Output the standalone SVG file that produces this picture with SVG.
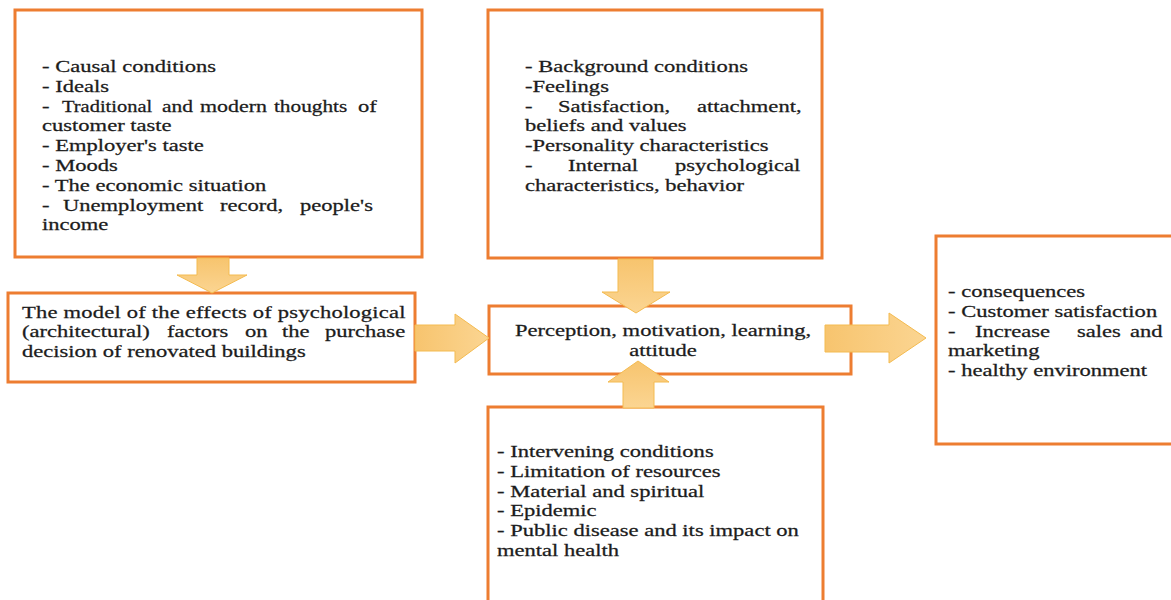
<svg xmlns="http://www.w3.org/2000/svg" width="1171" height="600" viewBox="0 0 1171 600">
<defs>
<linearGradient id="ag" x1="0" y1="0" x2="1" y2="0">
<stop offset="0" stop-color="#F7C46E"/>
<stop offset="1" stop-color="#FBD592"/>
</linearGradient>
<linearGradient id="agv" x1="0" y1="0" x2="0" y2="1">
<stop offset="0" stop-color="#F7C46E"/>
<stop offset="1" stop-color="#FBD592"/>
</linearGradient>
<style>
.box{fill:#fff;stroke:#ED7D31;stroke-width:3}
.t{font-family:"Liberation Serif","Times New Roman",serif;font-size:16px;fill:#1c1c1c;stroke:#1c1c1c;stroke-width:0.25}
.arr{stroke:#F4BB50;stroke-width:1}
</style>
</defs>
<rect width="1171" height="600" fill="#fff"/>

<g id="causal">
<rect class="box" x="15" y="10" width="407" height="247"/>
<g transform="translate(42,0) scale(1.41,1)">
<text class="t" x="0" y="72">- Causal conditions</text>
<text class="t" x="0" y="92">- Ideals</text>
<text class="t" x="0" y="112">-</text>
<text class="t" x="14.2" y="112" textLength="64" lengthAdjust="spacingAndGlyphs">Traditional</text>
<text class="t" x="85.1" y="112" textLength="22" lengthAdjust="spacingAndGlyphs">and</text>
<text class="t" x="112.1" y="112" textLength="47.5" lengthAdjust="spacingAndGlyphs">modern</text>
<text class="t" x="164.5" y="112" textLength="52" lengthAdjust="spacingAndGlyphs">thoughts</text>
<text class="t" x="224.1" y="112">of</text>
<text class="t" x="0" y="131">customer taste</text>
<text class="t" x="0" y="151">- Employer's taste</text>
<text class="t" x="0" y="171">- Moods</text>
<text class="t" x="0" y="191">- The economic situation</text>
<text class="t" y="211"><tspan x="0">-</tspan><tspan x="14.9">Unemployment</tspan><tspan x="126.2">record,</tspan><tspan x="183">people's</tspan></text>
<text class="t" x="0" y="230">income</text>
</g>
</g>

<g id="model">
<rect class="box" x="8" y="293" width="407" height="89"/>
<g transform="translate(22,0) scale(1.41,1)">
<text class="t" x="0" y="318" textLength="272" lengthAdjust="spacing">The model of the effects of psychological</text>
<text class="t" y="337"><tspan x="0">(architectural)</tspan><tspan x="102.8">factors</tspan><tspan x="158.2">on</tspan><tspan x="184.4">the</tspan><tspan x="214.9">purchase</tspan></text>
<text class="t" x="0" y="357">decision of renovated buildings</text>
</g>
</g>

<g id="background">
<rect class="box" x="488" y="10" width="334" height="248"/>
<g transform="translate(525,0) scale(1.41,1)">
<text class="t" x="0" y="72">- Background conditions</text>
<text class="t" x="0" y="92">-Feelings</text>
<text class="t" y="112"><tspan x="0">-</tspan><tspan x="23.4">Satisfaction,</tspan><tspan x="122">attachment,</tspan></text>
<text class="t" x="0" y="131">beliefs and values</text>
<text class="t" x="0" y="151">-Personality characteristics</text>
<text class="t" y="171"><tspan x="0">-</tspan><tspan x="30.5">Internal</tspan><tspan x="106.4">psychological</tspan></text>
<text class="t" x="0" y="191">characteristics, behavior</text>
</g>
</g>

<g id="perception">
<rect class="box" x="489" y="306" width="362" height="68"/>
<g transform="translate(663,0) scale(1.41,1)">
<text class="t" x="0" y="336" text-anchor="middle">Perception, motivation, learning,</text>
<text class="t" x="0" y="356" text-anchor="middle">attitude</text>
</g>
</g>

<g id="intervening">
<rect class="box" x="488" y="407" width="335" height="210"/>
<g transform="translate(497,0) scale(1.41,1)">
<text class="t" x="0" y="457">- Intervening conditions</text>
<text class="t" x="0" y="477">- Limitation of resources</text>
<text class="t" x="0" y="497">- Material and spiritual</text>
<text class="t" x="0" y="516">- Epidemic</text>
<text class="t" x="0" y="536">- Public disease and its impact on</text>
<text class="t" x="0" y="556">mental health</text>
</g>
</g>

<g id="consequences">
<rect class="box" x="936" y="236" width="245" height="208"/>
<g transform="translate(948,0) scale(1.41,1)">
<text class="t" x="0" y="297">- consequences</text>
<text class="t" x="0" y="317">- Customer satisfaction</text>
<text class="t" y="337"><tspan x="0">-</tspan><tspan x="19.1">Increase</tspan><tspan x="91.5">sales</tspan><tspan x="129.1">and</tspan></text>
<text class="t" x="0" y="356">marketing</text>
<text class="t" x="0" y="376">- healthy environment</text>
</g>
</g>

<g id="connectors">
<polygon class="arr" fill="url(#agv)" points="197,258 229,258 229,275 247,275 212,293 177,275 197,275"/>
<polygon class="arr" fill="url(#ag)" points="415,325 455,325 455,314 489,338 455,363 455,351 415,351"/>
<polygon class="arr" fill="url(#agv)" points="618,259 653,259 653,292 670,292 636,313 602,292 618,292"/>
<polygon class="arr" fill="url(#agv)" points="623,408 654,408 654,382 669,382 638,361 608,382 623,382"/>
<polygon class="arr" fill="url(#ag)" points="825,325 889,325 889,313 926,338 889,363 889,352 825,352"/>
</g>
</svg>
